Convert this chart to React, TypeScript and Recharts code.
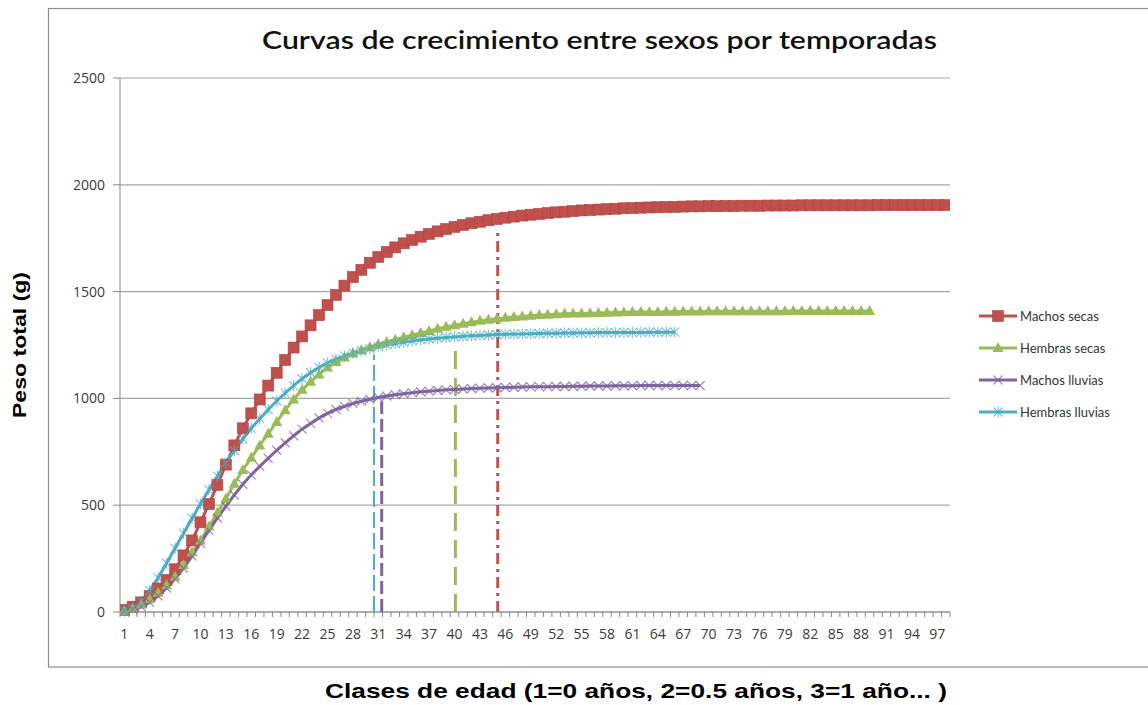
import React from 'react';
import { LineChart, Line, XAxis, YAxis, CartesianGrid, ReferenceLine } from 'recharts';

// age classes (1 = 0 years, 2 = 0.5 years ...)
const categories = [
  1, 2, 3, 4, 5, 6, 7, 8, 9, 10, 11, 12, 13, 14, 15, 16, 17, 18, 19, 20,
  21, 22, 23, 24, 25, 26, 27, 28, 29, 30, 31, 32, 33, 34, 35, 36, 37, 38, 39, 40,
  41, 42, 43, 44, 45, 46, 47, 48, 49, 50, 51, 52, 53, 54, 55, 56, 57, 58, 59, 60,
  61, 62, 63, 64, 65, 66, 67, 68, 69, 70, 71, 72, 73, 74, 75, 76, 77, 78, 79, 80,
  81, 82, 83, 84, 85, 86, 87, 88, 89, 90, 91, 92, 93, 94, 95, 96, 97, 98,
];

const xTickLabels = [1, 4, 7, 10, 13, 16, 19, 22, 25, 28, 31, 34, 37, 40, 43, 46, 49, 52, 55, 58, 61, 64, 67, 70, 73, 76, 79, 82, 85, 88, 91, 94, 97];
const yTicks = [0, 500, 1000, 1500, 2000, 2500];

const machosSecas = [
  10, 25, 45, 75, 110, 150, 200, 265, 335, 420,
  505, 595, 690, 780, 860, 930, 995, 1060, 1120, 1180,
  1238, 1290, 1342, 1390, 1437, 1485, 1528, 1568, 1602, 1635,
  1662, 1686, 1707, 1726, 1742, 1757, 1770, 1782, 1793, 1803,
  1812, 1820, 1827, 1834, 1840, 1846, 1851, 1856, 1860, 1864,
  1868, 1871, 1874, 1877, 1880, 1882, 1884, 1886, 1888, 1890,
  1891, 1893, 1894, 1895, 1896, 1897, 1898, 1899, 1899, 1900,
  1900, 1901, 1901, 1902, 1902, 1902, 1903, 1903, 1903, 1903,
  1904, 1904, 1904, 1904, 1904, 1904, 1904, 1904, 1904, 1905,
  1905, 1905, 1905, 1905, 1905, 1905, 1905, 1905,
];

const hembrasSecas = [
  5, 15, 35, 60, 90, 125, 165, 220, 280, 335,
  400, 465, 530, 600, 665, 722, 780, 835, 890, 945,
  995, 1040, 1078, 1112, 1145, 1170, 1192, 1210, 1226, 1240,
  1253, 1264, 1275, 1286, 1296, 1306, 1316, 1326, 1335, 1343,
  1350, 1357, 1363, 1368, 1373, 1377, 1381, 1384, 1387, 1390,
  1392, 1394, 1396, 1397, 1398, 1399, 1400, 1401, 1402, 1403,
  1404, 1404, 1405, 1405, 1406, 1406, 1407, 1407, 1407, 1408,
  1408, 1408, 1408, 1408, 1408, 1408, 1408, 1408, 1408, 1409,
  1409, 1409, 1409, 1409, 1409, 1409, 1409, 1409, 1409,
];

const machosLluvias = [
  5, 12, 25, 45, 75, 112, 155, 205, 262, 322,
  382, 440, 495, 548, 598, 642, 682, 720, 757, 792,
  825, 856, 883, 908, 930, 948, 963, 976, 987, 996,
  1004, 1011, 1017, 1022, 1027, 1031, 1034, 1037, 1040, 1042,
  1044, 1046, 1048, 1049, 1050, 1051, 1052, 1053, 1054, 1055,
  1055, 1056, 1056, 1057, 1057, 1058, 1058, 1058, 1059, 1059,
  1059, 1060, 1060, 1060, 1060, 1060, 1060, 1060, 1060,
];

const hembrasLluvias = [
  5, 18, 50, 100, 160, 228, 298, 368, 438, 506,
  572, 636, 698, 756, 810, 860, 905, 948, 988, 1025,
  1060, 1092, 1120, 1145, 1166, 1184, 1199, 1212, 1223, 1233,
  1242, 1250, 1257, 1263, 1269, 1274, 1278, 1282, 1285, 1288,
  1291, 1293, 1295, 1297, 1299, 1300, 1301, 1302, 1303, 1304,
  1305, 1305, 1306, 1306, 1307, 1307, 1308, 1308, 1308, 1309,
  1309, 1309, 1310, 1310, 1310, 1310,
];

// dashed drop lines (age class where each curve levels off)
const dropX = [30.5, 31.4, 40.1, 45.1];
const dropTop = [1205, 985, 1250, 1780];

const series = [
  { key: 'machosSecas', name: 'Machos secas', color: '#C0504D', marker: 'square', values: machosSecas },
  { key: 'hembrasSecas', name: 'Hembras secas', color: '#9BBB59', marker: 'triangle', values: hembrasSecas },
  { key: 'machosLluvias', name: 'Machos lluvias', color: '#8064A2', marker: 'x', values: machosLluvias },
  { key: 'hembrasLluvias', name: 'Hembras lluvias', color: '#4BACC6', marker: 'star', values: hembrasLluvias },
];

const dropStyles = [
  { color: '#4BACC6', width: 2, dash: '16 5' },
  { color: '#8064A2', width: 3, dash: '13 5' },
  { color: '#9BBB59', width: 3, dash: '18 9' },
  { color: '#C0504D', width: 3, dash: '11 5 3 5' },
];

const data = categories.map((c, i) => {
  const row: any = { x: c };
  series.forEach((s) => {
    row[s.key] = s.values[i] ?? null;
  });
  return row;
});

const tickMarks = categories.map((c) => c - 0.5).concat([categories[categories.length - 1] + 0.5]);

function drawMarker(kind: string, color: string, cx: number, cy: number, key?: any) {
  if (kind === 'square') {
    return <rect key={key} x={cx - 5.5} y={cy - 5.5} width={11} height={11} fill={color} stroke="#B3413E" strokeWidth={0.6} />;
  }
  if (kind === 'triangle') {
    return <polygon key={key} points={`${cx},${cy - 6} ${cx + 5.5},${cy + 4} ${cx - 5.5},${cy + 4}`} fill={color} />;
  }
  if (kind === 'x') {
    return (
      <g key={key} stroke={color} strokeWidth={1.3} opacity={0.7}>
        <line x1={cx - 4.5} y1={cy - 4.5} x2={cx + 4.5} y2={cy + 4.5} />
        <line x1={cx - 4.5} y1={cy + 4.5} x2={cx + 4.5} y2={cy - 4.5} />
      </g>
    );
  }
  return (
    <g key={key} stroke={color} strokeWidth={1.2} opacity={0.7}>
      <line x1={cx - 4.5} y1={cy - 4.5} x2={cx + 4.5} y2={cy + 4.5} />
      <line x1={cx - 4.5} y1={cy + 4.5} x2={cx + 4.5} y2={cy - 4.5} />
      <line x1={cx} y1={cy - 5.5} x2={cx} y2={cy + 5.5} />
    </g>
  );
}

const dotFor = (kind: string, color: string) => (props: any) => {
  const { cx, cy, index, value } = props;
  if (cx == null || cy == null || value == null) return <g key={`e${index}`} />;
  return drawMarker(kind, color, cx, cy, `d${index}`);
};

const labelStyle = { fontSize: '14px', fontFamily: '"Open Sans", sans-serif', fill: '#3a3a3a' };

// tick label renderers, so the font is under our control
const xLabel = (props: any) => {
  const { x, y, payload } = props;
  return (
    <text x={x} y={y} dy={11} textAnchor="middle" style={labelStyle}>
      {payload.value}
    </text>
  );
};
const yLabel = (props: any) => {
  const { x, y, payload } = props;
  return (
    <text x={x} y={y} dy={5} textAnchor="end" style={labelStyle}>
      {payload.value}
    </text>
  );
};
const noLabel = () => <g />;

export default function App() {
  return (
    <div style={{ position: 'absolute', left: 0, top: 0, width: 1148, height: 705, background: '#fff' }}>
      <LineChart
        width={1148}
        height={705}
        data={data}
        margin={{ top: 78, right: 198, left: 60, bottom: 91 }}
      >
        <CartesianGrid vertical={false} stroke="#A6A6A6" strokeWidth={1.2} />
        <XAxis
          dataKey="x"
          type="number"
          domain={[0.5, 98.5]}
          ticks={tickMarks}
          interval={0}
          height={1}
          tick={noLabel}
          tickSize={5}
          tickLine={{ stroke: '#888' }}
          axisLine={{ stroke: '#888' }}
          allowDataOverflow
        />
        <XAxis
          xAxisId="labels"
          dataKey="x"
          type="number"
          domain={[0.5, 98.5]}
          ticks={xTickLabels}
          interval={0}
          height={1}
          tickSize={0}
          tickMargin={15}
          tickLine={false}
          axisLine={false}
          tick={xLabel}
          allowDataOverflow
        />
        <YAxis
          width={60}
          domain={[0, 2500]}
          ticks={yTicks}
          interval={0}
          tickSize={7}
          tickMargin={8}
          tickLine={{ stroke: '#888' }}
          axisLine={{ stroke: '#888' }}
          tick={yLabel}
        />
        {dropX.map((x, i) => (
          <ReferenceLine
            key={`drop${i}`}
            segment={[{ x, y: 0 }, { x, y: dropTop[i] }]}
            stroke={dropStyles[i].color}
            strokeWidth={dropStyles[i].width}
            strokeDasharray={dropStyles[i].dash}
          />
        ))}
        {series.map((s) => (
          <Line
            key={s.key}
            dataKey={s.key}
            name={s.name}
            type="linear"
            stroke={s.color}
            strokeWidth={3}
            dot={dotFor(s.marker, s.color)}
            activeDot={false}
            isAnimationActive={false}
          />
        ))}
      </LineChart>

      <svg width={1148} height={705} style={{ position: 'absolute', left: 0, top: 0, pointerEvents: 'none' }}>
        <rect x={48.5} y={8.5} width={1120} height={658.5} fill="none" stroke="#8C8C8C" strokeWidth={1.2} />
        <text x={262} y={49} fontFamily="Lato" fontSize={24} fontWeight={600} fill="#111" textLength={675} lengthAdjust="spacingAndGlyphs">
          Curvas de crecimiento entre sexos por temporadas
        </text>
        <text
          transform="translate(26,345) rotate(-90)"
          textAnchor="middle"
          fontFamily="Liberation Sans"
          fontWeight="bold"
          fontSize={18}
          fill="#000"
          textLength={146}
          lengthAdjust="spacingAndGlyphs"
        >
          Peso total (g)
        </text>
        <text x={325} y={698} fontFamily="Liberation Sans" fontWeight="bold" fontSize={21} fill="#000" textLength={622} lengthAdjust="spacingAndGlyphs">
          Clases de edad (1=0 años, 2=0.5 años, 3=1 año... )
        </text>
      </svg>

      <div style={{ position: 'absolute', left: 978, top: 300, fontFamily: 'Lato', fontSize: 13, color: '#333' }}>
        {series.map((s) => (
          <div key={s.key} style={{ display: 'flex', alignItems: 'center', height: 32 }}>
            <svg width={40} height={16}>
              <line x1={1} y1={8} x2={39} y2={8} stroke={s.color} strokeWidth={3} />
              {drawMarker(s.marker, s.color, 20, 8)}
            </svg>
            <span style={{ marginLeft: 2 }}>{s.name}</span>
          </div>
        ))}
      </div>
    </div>
  );
}
